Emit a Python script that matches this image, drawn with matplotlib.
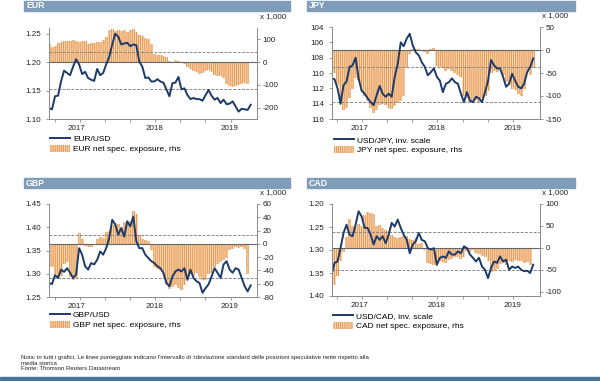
import numpy as np
import matplotlib.pyplot as plt
from matplotlib.patches import Rectangle, Patch
from matplotlib.lines import Line2D

plt.rcParams['font.family'] = ['Liberation Sans', 'DejaVu Sans']
plt.rcParams['axes.unicode_minus'] = False
plt.rcParams['hatch.linewidth'] = 0.7

# samples every ~10 days, mid-2017 -> spring 2019
eur_usd = [1.119, 1.117, 1.140, 1.141, 1.166, 1.185, 1.181, 1.177, 1.192, 1.205,
           1.196, 1.179, 1.183, 1.172, 1.169, 1.167, 1.188, 1.177, 1.181, 1.196,
           1.209, 1.231, 1.250, 1.245, 1.231, 1.233, 1.234, 1.228, 1.231, 1.230,
           1.201, 1.192, 1.172, 1.173, 1.166, 1.166, 1.170, 1.166, 1.164, 1.152,
           1.140, 1.163, 1.164, 1.174, 1.152, 1.154, 1.142, 1.135, 1.137, 1.135,
           1.135, 1.132, 1.142, 1.151, 1.141, 1.134, 1.137, 1.128, 1.134, 1.126,
           1.127, 1.131, 1.122, 1.113, 1.118, 1.117, 1.116, 1.125]
eur_net = [77, 65, 70, 85, 88, 92, 93, 90, 95, 92, 88, 94, 92, 80, 82, 85, 88, 86,
           95, 110, 140, 145, 138, 142, 135, 140, 133, 140, 145, 130, 120, 115, 105,
           100, 78, 35, 32, 30, 25, 20, 5, 2, 10, 3, -3, -10, -20, -30, -38, -45,
           -50, -48, -40, -35, -42, -55, -60, -62, -70, -95, -105, -108, -105, -100,
           -98, -92, -95]

usd_jpy = [110.7, 110.8, 112.0, 114.0, 111.6, 111.1, 109.2, 109.0, 108.0, 110.7,
           112.3, 112.7, 113.3, 113.8, 114.2, 112.9, 111.7, 112.7, 113.1, 112.7,
           113.1, 110.5, 108.8, 106.0, 106.5, 105.5, 104.9, 106.4, 107.3, 107.7,
           108.6, 109.2, 110.3, 109.9, 109.4, 110.5, 111.0, 112.5, 111.4, 111.2,
           110.7, 111.2, 111.4, 112.7, 113.8, 112.5, 113.6, 113.8, 113.1, 113.3,
           113.8, 112.5, 111.0, 108.3, 109.0, 109.4, 109.4, 110.5, 111.8, 111.4,
           110.1, 111.0, 111.8, 112.0, 111.4, 109.9, 109.2, 108.1]
jpy_net = [-45, -50, -75, -120, -130, -125, -105, -85, -60, -65, -90, -100, -110,
           -125, -138, -130, -120, -118, -120, -125, -128, -122, -115, -110, -100,
           -40, -8, 2, 3, 2, -3, -5, -8, 3, 5, -35, -38, -40, -45, -42, -45, -50,
           -55, -58, -100, -105, -112, -110, -108, -112, -105, -100, -90, -50, -45,
           -48, -42, -55, -70, -75, -85, -88, -95, -100, -85, -45, -55, -40]

gbp_usd = [1.280, 1.278, 1.297, 1.291, 1.309, 1.304, 1.312, 1.302, 1.291, 1.298,
           1.355, 1.341, 1.316, 1.309, 1.323, 1.320, 1.330, 1.348, 1.341, 1.355,
           1.377, 1.416, 1.406, 1.384, 1.398, 1.380, 1.413, 1.402, 1.423, 1.370,
           1.355, 1.355, 1.341, 1.334, 1.327, 1.323, 1.316, 1.312, 1.302, 1.280,
           1.273, 1.294, 1.305, 1.309, 1.305, 1.312, 1.287, 1.309, 1.291, 1.284,
           1.280, 1.259, 1.269, 1.277, 1.294, 1.312, 1.302, 1.291, 1.320, 1.327,
           1.309, 1.302, 1.312, 1.309, 1.291, 1.273, 1.262, 1.275]
gbp_net = [-33, -35, -45, -50, -48, -30, -28, -50, -55, -52, 16, 8, -3, -5, -4, -2,
           8, 10, 9, 18, 20, 28, 32, 30, 26, 33, 32, 35, 50, 45, 14, 7, 6, 4, -10,
           -35, -38, -40, -45, -60, -68, -65, -62, -66, -70, -62, -50, -45, -48, -44,
           -50, -55, -54, -45, -44, -35, -30, -28, -25, -22, -10, -7, -5, -6, -4, -8,
           -45]

usd_cad = [1.354, 1.328, 1.325, 1.296, 1.263, 1.245, 1.267, 1.270, 1.245, 1.216,
           1.227, 1.252, 1.252, 1.267, 1.288, 1.270, 1.278, 1.270, 1.285, 1.267,
           1.241, 1.249, 1.234, 1.252, 1.267, 1.278, 1.307, 1.288, 1.281, 1.263,
           1.278, 1.281, 1.296, 1.299, 1.296, 1.332, 1.317, 1.314, 1.317, 1.303,
           1.310, 1.310, 1.303, 1.307, 1.292, 1.296, 1.310, 1.317, 1.325, 1.317,
           1.336, 1.343, 1.361, 1.339, 1.325, 1.328, 1.314, 1.325, 1.321, 1.343,
           1.336, 1.339, 1.336, 1.343, 1.346, 1.345, 1.350, 1.332]
cad_net = [-95, -85, -65, -30, -10, 25, 65, 50, 48, 55, 50, 75, 82, 80, 78, 50, 52,
           45, 40, 38, 30, 25, 22, 25, 28, 26, 20, 18, 22, 8, 10, -5, -35, -38, -40,
           -42, -30, -32, -35, -28, -25, -22, -20, -25, -22, -8, -10, -6, -12, -15,
           -18, -20, -30, -55, -52, -48, -38, -35, -40, -30, -32, -28, -30, -30, -35,
           -32, -40]

year_labels = ['2017', '2018', '2019']
year_pos = [9.2, 35.0, 60.1]
qtr_ticks = [1.9, 10.2, 18.6, 26.9, 35.2, 43.6, 51.9, 60.3]

W, H = 600, 381
NAVY = '#1c3a6a'
ORANGE = '#e8954c'
PALE = '#f8d8b8'
HEAD = '#7f9cb8'
GREY = '#8c8c8c'


def fx(px):
    return px / W


def fy(py):
    return 1 - py / H


panels = [
    dict(name='EUR', line=eur_usd, bars=eur_net, box=(49, 257, 28, 119),
         ylim=(1.10, 1.26), yt=[1.10, 1.15, 1.20, 1.25], fmt='{:.2f}',
         rlim=(-249, 149), rt=[-200, -100, 0, 100], band=(44, -118),
         head=(24, 290, 1, 11), lab=('EUR/USD', 'EUR net spec. exposure, rhs'), leg=(50, 135)),
    dict(name='JPY', line=usd_jpy, bars=jpy_net, box=(331.5, 539.5, 27, 119),
         ylim=(116, 104), yt=[104, 106, 108, 110, 112, 114, 116], fmt='{:.0f}',
         rlim=(-150, 50), rt=[-150, -100, -50, 0, 50], band=(-37, -114),
         head=(307, 575, 1, 11), lab=('USD/JPY, inv. scale', 'JPY net spec. exposure, rhs'), leg=(334, 136)),
    dict(name='GBP', line=gbp_usd, bars=gbp_net, box=(49, 257, 204, 297),
         ylim=(1.25, 1.45), yt=[1.25, 1.30, 1.35, 1.40, 1.45], fmt='{:.2f}',
         rlim=(-80, 60), rt=[-80, -60, -40, -20, 0, 20, 40, 60], band=(13, -52),
         head=(24, 290, 178, 188), lab=('GBP/USD', 'GBP net spec. exposure, rhs'), leg=(50, 311)),
    dict(name='CAD', line=usd_cad, bars=cad_net, box=(331.5, 539.5, 204, 296),
         ylim=(1.40, 1.20), yt=[1.20, 1.25, 1.30, 1.35, 1.40], fmt='{:.2f}',
         rlim=(-110, 100), rt=[-100, -50, 0, 50, 100], band=(35, -50),
         head=(307, 575, 178, 188), lab=('USD/CAD, inv. scale', 'CAD net spec. exposure, rhs'), leg=(333, 312)),
]

fig = plt.figure(figsize=(6, 3.81), dpi=100)

for p in panels:
    x0, x1, y0, y1 = p['box']
    ax = fig.add_axes([fx(x0), fy(y1), fx(x1 - x0), (y1 - y0) / H])
    axr = ax.twinx()
    ax.set_zorder(axr.get_zorder() + 1)
    ax.patch.set_visible(False)

    # pale bars with dense vertical stripes, like the weekly columns in the original
    xb = np.arange(len(p['bars']))
    axr.bar(xb, p['bars'], width=1.0, facecolor=PALE, edgecolor=ORANGE,
            hatch='||||||||', linewidth=0)
    axr.axhline(0, color='#666666', lw=0.8)
    for b in p['band']:
        axr.axhline(b, color='#888888', lw=0.7, ls=(0, (3, 1.5)))
    axr.set_ylim(*p['rlim'])
    axr.set_yticks(p['rt'])
    axr.set_yticklabels([str(v) for v in p['rt']])

    xl = np.arange(len(p['line']))
    ax.plot(xl, p['line'], color=NAVY, lw=1.4)
    ax.set_ylim(*p['ylim'])
    ax.set_yticks(p['yt'])
    ax.set_yticklabels([p['fmt'].format(v) for v in p['yt']])
    ax.set_xlim(0, 69.1)
    ax.set_xticks(year_pos)
    ax.set_xticklabels(year_labels)
    ax.set_xticks(qtr_ticks, minor=True)
    ax.tick_params(axis='x', which='major', length=0, pad=4, labelsize=5.8, colors='#222222')
    ax.tick_params(axis='x', which='minor', length=2.2, width=0.6, color=GREY, direction='out')
    ax.tick_params(axis='y', length=2, width=0.6, color=GREY, pad=3.5, labelsize=5.8, labelcolor='#222222')
    axr.tick_params(axis='y', length=2, width=0.6, color=GREY, pad=2.2, labelsize=5.8, labelcolor='#222222')

    for a in (ax, axr):
        a.spines['top'].set_visible(False)
        for s in ('left', 'right', 'bottom'):
            a.spines[s].set_color(GREY)
            a.spines[s].set_linewidth(0.7)

    # title band
    hx0, hx1, hy0, hy1 = p['head']
    fig.patches.append(Rectangle((fx(hx0), fy(hy1)), fx(hx1 - hx0), (hy1 - hy0) / H,
                                 transform=fig.transFigure, color=HEAD, zorder=0))
    fig.text(fx(hx0 + 2), fy((hy0 + hy1) / 2), p['name'], color='white', fontsize=6.3,
             fontweight='bold', va='center', ha='left')
    fig.text(fx(x1 + 29), fy(y0 - 11), 'x 1,000', fontsize=5.8, ha='right', va='center',
             color='#222222')

    handles = [Line2D([], [], color=NAVY, lw=1.4),
               Patch(facecolor=PALE, edgecolor=ORANGE, hatch='||||||||', lw=0)]
    lx, ly = p['leg']
    fig.legend(handles, p['lab'], loc='upper left', bbox_to_anchor=(fx(lx), fy(ly)),
               frameon=False, fontsize=6, handlelength=2.4, handleheight=0.8,
               handletextpad=0.35, labelspacing=0.25, borderpad=0, borderaxespad=0)

note = ("Nota: in tutti i grafici, Le linee punteggiate indicano l'intervallo di \u00b1deviazione "
        "standard delle posizioni speculative nette rispetto alla")
fig.text(fx(21), fy(358), note, fontsize=4.3, va='center', color='#222222')
fig.text(fx(21), fy(363.6), 'media storica', fontsize=4.3, va='center', color='#222222')
fig.text(fx(21), fy(369), 'Fonte: Thomson Reuters Datastream', fontsize=4.3, va='center',
         color='#222222')

fig.patches.append(Rectangle((0, 0), 1, 4 / H, transform=fig.transFigure,
                             color='#4d7393', zorder=0))

fig.savefig('out.png', dpi=100)
